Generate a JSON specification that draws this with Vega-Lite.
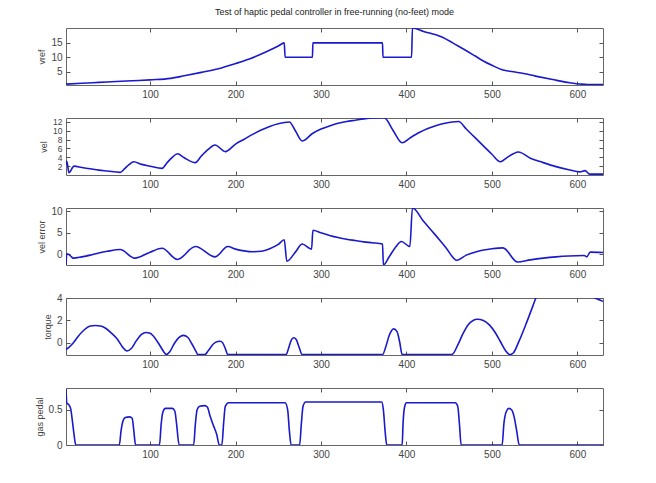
{
  "$schema": "https://vega.github.io/schema/vega-lite/v6.json",
  "padding": {"left": 34, "top": 7, "right": 5, "bottom": 5},
  "spacing": 33,
  "bounds": "flush",
  "datasets": {
    "vref": [
      {"t":1.6,"v":0.6},{"t":20,"v":0.9},{"t":40,"v":1.2},{"t":60,"v":1.5},{"t":80,"v":1.8},{"t":100,"v":2.1},{"t":124,"v":2.6},{"t":140,"v":3.5},{"t":160,"v":4.7},{"t":180,"v":6.0},{"t":200,"v":7.8},{"t":217,"v":9.5},{"t":236,"v":11.9},{"t":250,"v":13.9},{"t":257,"v":15.0},{"t":258,"v":10},{"t":290,"v":10},{"t":290.5,"v":15},{"t":372,"v":15},{"t":372.5,"v":10},{"t":406,"v":10},{"t":407,"v":20.2},{"t":420,"v":19.0},{"t":440,"v":17.2},{"t":460,"v":14.0},{"t":480,"v":10.5},{"t":490,"v":8.7},{"t":500,"v":7.2},{"t":512,"v":5.6},{"t":525,"v":4.9},{"t":537,"v":4.3},{"t":551,"v":3.4},{"t":571,"v":2.2},{"t":591,"v":1.1},{"t":605,"v":0.6},{"t":612,"v":0.5},{"t":630,"v":0.5}
    ],
    "vel": [
      {"t":1.6,"v":2.4},{"t":2.6,"v":3.1},{"t":5,"v":0.5},{"t":11,"v":2.0},{"t":20,"v":1.7},{"t":30,"v":1.4},{"t":40,"v":1.1},{"t":50,"v":0.9},{"t":65,"v":0.6},{"t":70,"v":1.4},{"t":75,"v":2.3},{"t":81,"v":3.0},{"t":90,"v":2.4},{"t":100,"v":2.0},{"t":114,"v":1.5},{"t":120,"v":2.8},{"t":126,"v":4.0},{"t":132,"v":4.8},{"t":140,"v":3.9},{"t":153,"v":2.8},{"t":160,"v":4.3},{"t":168,"v":5.8},{"t":176,"v":6.8},{"t":188,"v":5.3},{"t":200,"v":7.0},{"t":210,"v":8.1},{"t":220,"v":9.2},{"t":230,"v":10.2},{"t":240,"v":11.0},{"t":250,"v":11.6},{"t":263,"v":12.0},{"t":270,"v":10.0},{"t":278,"v":7.7},{"t":290,"v":9.4},{"t":300,"v":10.4},{"t":310,"v":11.1},{"t":320,"v":11.7},{"t":330,"v":12.1},{"t":340,"v":12.4},{"t":350,"v":12.7},{"t":362,"v":12.9},{"t":374,"v":12.95},{"t":384,"v":10.2},{"t":395,"v":7.3},{"t":405,"v":8.5},{"t":415,"v":9.6},{"t":425,"v":10.5},{"t":435,"v":11.2},{"t":445,"v":11.7},{"t":461,"v":12.1},{"t":470,"v":10.4},{"t":480,"v":8.5},{"t":490,"v":6.6},{"t":500,"v":4.7},{"t":510,"v":3.0},{"t":518,"v":4.0},{"t":525,"v":4.8},{"t":531,"v":5.2},{"t":545,"v":3.8},{"t":560,"v":2.8},{"t":575,"v":1.9},{"t":590,"v":1.2},{"t":603,"v":0.7},{"t":609,"v":1.0},{"t":614,"v":0.2},{"t":630,"v":0.2}
    ],
    "velerr": [
      {"t":1.6,"v":-2.5},{"t":2.5,"v":0.1},{"t":4.5,"v":0.0},{"t":7,"v":-0.4},{"t":10,"v":-0.9},{"t":20,"v":-0.6},{"t":30,"v":-0.2},{"t":40,"v":0.3},{"t":50,"v":0.7},{"t":65,"v":1.1},{"t":82,"v":-0.9},{"t":100,"v":0.5},{"t":114,"v":1.4},{"t":132,"v":-1.2},{"t":153,"v":1.8},{"t":176,"v":-0.6},{"t":191,"v":1.8},{"t":200,"v":1.2},{"t":210,"v":0.8},{"t":220,"v":0.6},{"t":230,"v":0.7},{"t":240,"v":1.3},{"t":250,"v":2.3},{"t":257,"v":3.4},{"t":260,"v":-1.6},{"t":270,"v":0.5},{"t":278,"v":2.4},{"t":289,"v":1.2},{"t":290.5,"v":5.6},{"t":300,"v":5.0},{"t":310,"v":4.4},{"t":320,"v":3.9},{"t":330,"v":3.5},{"t":340,"v":3.2},{"t":350,"v":2.9},{"t":360,"v":2.7},{"t":372,"v":2.4},{"t":373,"v":-2.5},{"t":380,"v":-0.5},{"t":387,"v":1.6},{"t":394,"v":3.0},{"t":404,"v":1.8},{"t":407,"v":10.8},{"t":420,"v":7.7},{"t":433,"v":4.7},{"t":446,"v":1.6},{"t":459,"v":-1.4},{"t":470,"v":-0.2},{"t":480,"v":0.5},{"t":490,"v":1.0},{"t":500,"v":1.3},{"t":513,"v":1.5},{"t":530,"v":-1.8},{"t":545,"v":-1.3},{"t":560,"v":-0.9},{"t":575,"v":-0.6},{"t":590,"v":-0.4},{"t":608,"v":-0.3},{"t":611,"v":-0.6},{"t":615,"v":0.5},{"t":630,"v":0.4}
    ],
    "torque": [
      {"t":1.6,"v":-0.6},{"t":5,"v":-0.4},{"t":9,"v":-0.1},{"t":15,"v":0.5},{"t":20,"v":0.95},{"t":25,"v":1.3},{"t":30,"v":1.5},{"t":36,"v":1.55},{"t":42,"v":1.5},{"t":48,"v":1.3},{"t":55,"v":0.85},{"t":62,"v":0.3},{"t":68,"v":-0.4},{"t":73,"v":-0.72},{"t":78,"v":-0.5},{"t":84,"v":0.2},{"t":90,"v":0.75},{"t":95,"v":0.93},{"t":100,"v":0.85},{"t":106,"v":0.4},{"t":112,"v":-0.3},{"t":117,"v":-0.9},{"t":119,"v":-1.05},{"t":123,"v":-0.8},{"t":128,"v":-0.1},{"t":134,"v":0.5},{"t":139,"v":0.67},{"t":144,"v":0.5},{"t":149,"v":-0.1},{"t":154,"v":-0.8},{"t":156,"v":-1.05},{"t":164,"v":-1.05},{"t":168,"v":-0.7},{"t":174,"v":-0.1},{"t":179,"v":0.12},{"t":182,"v":0.15},{"t":185,"v":0},{"t":188,"v":-0.5},{"t":191,"v":-1.05},{"t":259,"v":-1.05},{"t":262,"v":-0.5},{"t":265,"v":0.2},{"t":268,"v":0.46},{"t":271,"v":0.3},{"t":274,"v":-0.3},{"t":278,"v":-1.05},{"t":372,"v":-1.05},{"t":376,"v":-0.3},{"t":380,"v":0.7},{"t":385,"v":1.25},{"t":389,"v":1.0},{"t":392,"v":0.1},{"t":395,"v":-1.05},{"t":453,"v":-1.05},{"t":460,"v":-0.2},{"t":466,"v":0.8},{"t":472,"v":1.6},{"t":478,"v":2.0},{"t":483,"v":2.1},{"t":490,"v":2.0},{"t":497,"v":1.6},{"t":504,"v":0.9},{"t":510,"v":0.1},{"t":516,"v":-0.7},{"t":521,"v":-1.05},{"t":525,"v":-0.9},{"t":532,"v":0.2},{"t":540,"v":1.7},{"t":548,"v":3.3},{"t":552,"v":4.1},{"t":560,"v":4.8},{"t":590,"v":5.5},{"t":615,"v":4.2},{"t":622,"v":3.95},{"t":630,"v":3.7}
    ],
    "gas": [
      {"t":1.6,"v":0.8},{"t":2.5,"v":0.6},{"t":5,"v":0.57},{"t":7,"v":0.52},{"t":9,"v":0.35},{"t":11,"v":0.15},{"t":13,"v":0},{"t":64,"v":0},{"t":66,"v":0.2},{"t":68,"v":0.33},{"t":71,"v":0.39},{"t":76,"v":0.4},{"t":79,"v":0.38},{"t":81,"v":0.2},{"t":83,"v":0},{"t":111,"v":0},{"t":113,"v":0.3},{"t":115,"v":0.47},{"t":118,"v":0.52},{"t":126,"v":0.52},{"t":129,"v":0.48},{"t":131,"v":0.3},{"t":134,"v":0},{"t":151,"v":0},{"t":153,"v":0.3},{"t":155,"v":0.5},{"t":158,"v":0.55},{"t":164,"v":0.56},{"t":167,"v":0.54},{"t":170,"v":0.42},{"t":174,"v":0.28},{"t":178,"v":0.15},{"t":181,"v":0},{"t":184,"v":0},{"t":186,"v":0.3},{"t":188,"v":0.55},{"t":192,"v":0.6},{"t":258,"v":0.6},{"t":261,"v":0.5},{"t":263,"v":0.2},{"t":265,"v":0},{"t":275,"v":0},{"t":277,"v":0.3},{"t":279,"v":0.55},{"t":282,"v":0.61},{"t":371,"v":0.61},{"t":373,"v":0.5},{"t":375,"v":0.2},{"t":377,"v":0},{"t":395,"v":0},{"t":396,"v":0.3},{"t":398,"v":0.55},{"t":400,"v":0.6},{"t":457,"v":0.6},{"t":460,"v":0.55},{"t":462,"v":0.3},{"t":464,"v":0},{"t":512,"v":0},{"t":514,"v":0.3},{"t":517,"v":0.48},{"t":520,"v":0.52},{"t":523,"v":0.5},{"t":526,"v":0.4},{"t":529,"v":0.2},{"t":532,"v":0},{"t":630,"v":0}
    ]
  },
  "vconcat": [
    {
      "width": 537, "height": 57,
      "title": {"text": "Test of haptic pedal controller in free-running (no-feet) mode", "fontSize": 9, "fontWeight": "normal", "font": "Liberation Sans", "color": "#222", "offset": 11},
      "data": {"name": "vref"},
      "layer": [
        {"mark": {"type": "line", "clip": true, "interpolate": "monotone"},
         "encoding": {
           "x": {"field": "t", "type": "quantitative", "scale": {"domain": [1.6, 630], "nice": false, "zero": false}, "axis": {"orient": "bottom", "values": [100,200,300,400,500,600], "title": null}},
           "y": {"field": "v", "type": "quantitative", "scale": {"domain": [0.3, 20.2], "nice": false, "zero": false}, "axis": {"orient": "left", "values": [5,10,15], "title": "vref"}}}},
        {"mark": {"type": "line", "clip": true, "opacity": 0},
         "encoding": {
           "x": {"field": "t", "type": "quantitative", "axis": {"orient": "top", "values": [100,200,300,400,500,600], "labels": false, "title": null}},
           "y": {"field": "v", "type": "quantitative", "axis": {"orient": "right", "values": [5,10,15], "labels": false, "title": null}}}}
      ],
      "resolve": {"axis": {"x": "independent", "y": "independent"}}
    },
    {
      "width": 537, "height": 57,
      "data": {"name": "vel"},
      "layer": [
        {"mark": {"type": "line", "clip": true, "interpolate": "monotone"},
         "encoding": {
           "x": {"field": "t", "type": "quantitative", "scale": {"domain": [1.6, 630], "nice": false, "zero": false}, "axis": {"orient": "bottom", "values": [100,200,300,400,500,600], "title": null}},
           "y": {"field": "v", "type": "quantitative", "scale": {"domain": [0, 12.9], "nice": false, "zero": false}, "axis": {"orient": "left", "values": [2,4,6,8,10,12], "title": "vel", "labelFontSize": 8.5}}}},
        {"mark": {"type": "line", "clip": true, "opacity": 0},
         "encoding": {
           "x": {"field": "t", "type": "quantitative", "axis": {"orient": "top", "values": [100,200,300,400,500,600], "labels": false, "title": null}},
           "y": {"field": "v", "type": "quantitative", "axis": {"orient": "right", "values": [2,4,6,8,10,12], "labels": false, "title": null}}}}
      ],
      "resolve": {"axis": {"x": "independent", "y": "independent"}}
    },
    {
      "width": 537, "height": 57,
      "data": {"name": "velerr"},
      "layer": [
        {"mark": {"type": "line", "clip": true, "interpolate": "monotone"},
         "encoding": {
           "x": {"field": "t", "type": "quantitative", "scale": {"domain": [1.6, 630], "nice": false, "zero": false}, "axis": {"orient": "bottom", "values": [100,200,300,400,500,600], "title": null}},
           "y": {"field": "v", "type": "quantitative", "scale": {"domain": [-2.5, 10.8], "nice": false, "zero": false}, "axis": {"orient": "left", "values": [0,5,10], "title": "vel error"}}}},
        {"mark": {"type": "line", "clip": true, "opacity": 0},
         "encoding": {
           "x": {"field": "t", "type": "quantitative", "axis": {"orient": "top", "values": [100,200,300,400,500,600], "labels": false, "title": null}},
           "y": {"field": "v", "type": "quantitative", "axis": {"orient": "right", "values": [0,5,10], "labels": false, "title": null}}}}
      ],
      "resolve": {"axis": {"x": "independent", "y": "independent"}}
    },
    {
      "width": 537, "height": 57,
      "data": {"name": "torque"},
      "layer": [
        {"mark": {"type": "line", "clip": true, "interpolate": "monotone"},
         "encoding": {
           "x": {"field": "t", "type": "quantitative", "scale": {"domain": [1.6, 630], "nice": false, "zero": false}, "axis": {"orient": "bottom", "values": [100,200,300,400,500,600], "title": null}},
           "y": {"field": "v", "type": "quantitative", "scale": {"domain": [-1.08, 4], "nice": false, "zero": false}, "axis": {"orient": "left", "values": [0,2,4], "title": "torque"}}}},
        {"mark": {"type": "line", "clip": true, "opacity": 0},
         "encoding": {
           "x": {"field": "t", "type": "quantitative", "axis": {"orient": "top", "values": [100,200,300,400,500,600], "labels": false, "title": null}},
           "y": {"field": "v", "type": "quantitative", "axis": {"orient": "right", "values": [0,2,4], "labels": false, "title": null}}}}
      ],
      "resolve": {"axis": {"x": "independent", "y": "independent"}}
    },
    {
      "width": 537, "height": 57,
      "data": {"name": "gas"},
      "layer": [
        {"mark": {"type": "line", "clip": true, "interpolate": "monotone"},
         "encoding": {
           "x": {"field": "t", "type": "quantitative", "scale": {"domain": [1.6, 630], "nice": false, "zero": false}, "axis": {"orient": "bottom", "values": [100,200,300,400,500,600], "title": null}},
           "y": {"field": "v", "type": "quantitative", "scale": {"domain": [0, 0.81], "nice": false, "zero": false}, "axis": {"orient": "left", "values": [0,0.5], "format": "~g", "title": "gas pedal"}}}},
        {"mark": {"type": "line", "clip": true, "opacity": 0},
         "encoding": {
           "x": {"field": "t", "type": "quantitative", "axis": {"orient": "top", "values": [100,200,300,400,500,600], "labels": false, "title": null}},
           "y": {"field": "v", "type": "quantitative", "axis": {"orient": "right", "values": [0,0.5], "labels": false, "title": null}}}}
      ],
      "resolve": {"axis": {"x": "independent", "y": "independent"}}
    }
  ],
  "config": {
    "background": "white",
    "view": {"stroke": "#666", "strokeWidth": 1},
    "line": {"color": "#1a1acc", "strokeWidth": 1.6},
    "axis": {"grid": false, "domain": false, "tickSize": -4, "tickColor": "#555", "labelColor": "#444", "labelFont": "Liberation Sans", "labelFontSize": 10, "labelPadding": 8, "labelOverlap": false, "titleFont": "Liberation Sans", "titleFontSize": 9, "titleFontWeight": "normal", "titleColor": "#444", "titlePadding": 4}
  }
}
